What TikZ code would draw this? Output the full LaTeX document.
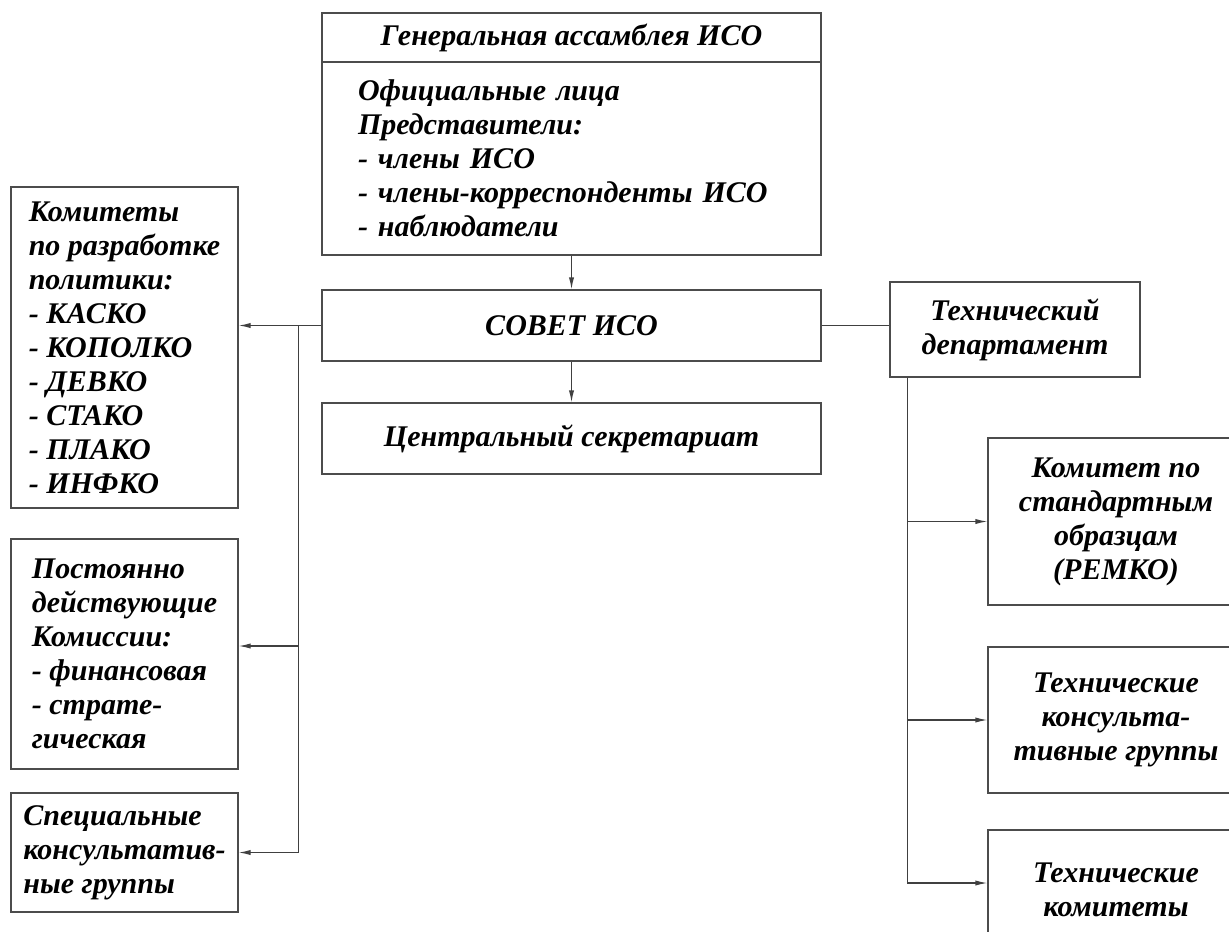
\documentclass[tikz,border=0pt]{standalone}
\usepackage{fontspec}
\setmainfont{Liberation Serif}
\usetikzlibrary{arrows.meta}

\tikzset{
  box/.style={draw=black!70,line width=0.6pt,rectangle,inner sep=0pt,
    font=\fontsize{15}{17}\selectfont\bfseries\itshape},
  arr/.style={draw=black!75,line width=0.6pt,-{Latex[length=6pt,width=2.6pt]}},
  ln/.style={draw=black!75,line width=0.6pt}
}

\begin{document}
\begin{tikzpicture}[x=0.5pt,y=-0.5pt]
 \useasboundingbox (0,0) rectangle (1229,931);
 %centre : assemblee, conseil, secretariat
 \node[box,minimum width=249.5pt,minimum height=24.5pt] (gatitle) at (571.5,37.5) {Генеральная ассамблея ИСО};
 \node[box,minimum width=249.5pt,minimum height=96.5pt,text width=213.5pt,align=left,inner xsep=18pt] (gabody) at (571.5,158.5)
  {Официальные лица\\Представители:\\- члены ИСО\\- члены-корреспонденты ИСО\\- наблюдатели};
 \node[box,minimum width=249.5pt,minimum height=35.5pt] (sovet) at (571.5,325.5) {СОВЕТ ИСО};
 \node[box,minimum width=249.5pt,minimum height=35.5pt] (central) at (571.5,438.5) {Центральный секретариат};
 %gauche
 \node[box,minimum width=113.5pt,minimum height=160.5pt,align=left] (kom) at (124.5,347.5)
  {Комитеты\\по разработке\\политики:\\- КАСКО\\- КОПОЛКО\\- ДЕВКО\\- СТАКО\\- ПЛАКО\\- ИНФКО};
 \node[box,minimum width=113.5pt,minimum height=115pt,align=left] (post) at (124.5,654)
  {Постоянно\\действующие\\Комиссии:\\- финансовая\\- страте-\\гическая};
 \node[box,minimum width=113.5pt,minimum height=59.5pt,align=left] (spec) at (124.5,852.5)
  {Специальные\\консультатив-\\ные группы};
 %droite
 \node[box,minimum width=125pt,minimum height=47.5pt,align=center] (tech) at (1015,329.5) {Технический\\департамент};
 \node[box,minimum width=128pt,minimum height=83.5pt,align=center] (rem) at (1116,521.5)
  {Комитет по\\стандартным\\образцам\\(РЕМКО)};
 \node[box,minimum width=128pt,minimum height=73pt,align=center] (tcg) at (1116,720)
  {Технические\\консульта-\\тивные группы};
 \node[box,minimum width=128pt,minimum height=60pt,align=center] (tcom) at (1116,890)
  {Технические\\комитеты};
 %liaisons
 \draw[arr] (gabody.south) -- (sovet.north);
 \draw[arr] (sovet.south) -- (central.north);
 \draw[arr] (sovet.west) -- (sovet.west -| kom.east);
 \coordinate (lbus) at ([xshift=-11.5pt]sovet.west);
 \draw[arr] (lbus) |- ([yshift=4pt]post.east);
 \draw[arr] (lbus) |- (spec.east);
 \draw[ln] (sovet.east) -- (sovet.east -| tech.west);
 \coordinate (rbus) at ([xshift=9pt]tech.south west);
 \draw[arr] (rbus) |- (rem.west);
 \draw[arr] (rbus) |- (tcg.west);
 \draw[arr] (rbus) |- ([yshift=3.5pt]tcom.west);
\end{tikzpicture}
\end{document}
